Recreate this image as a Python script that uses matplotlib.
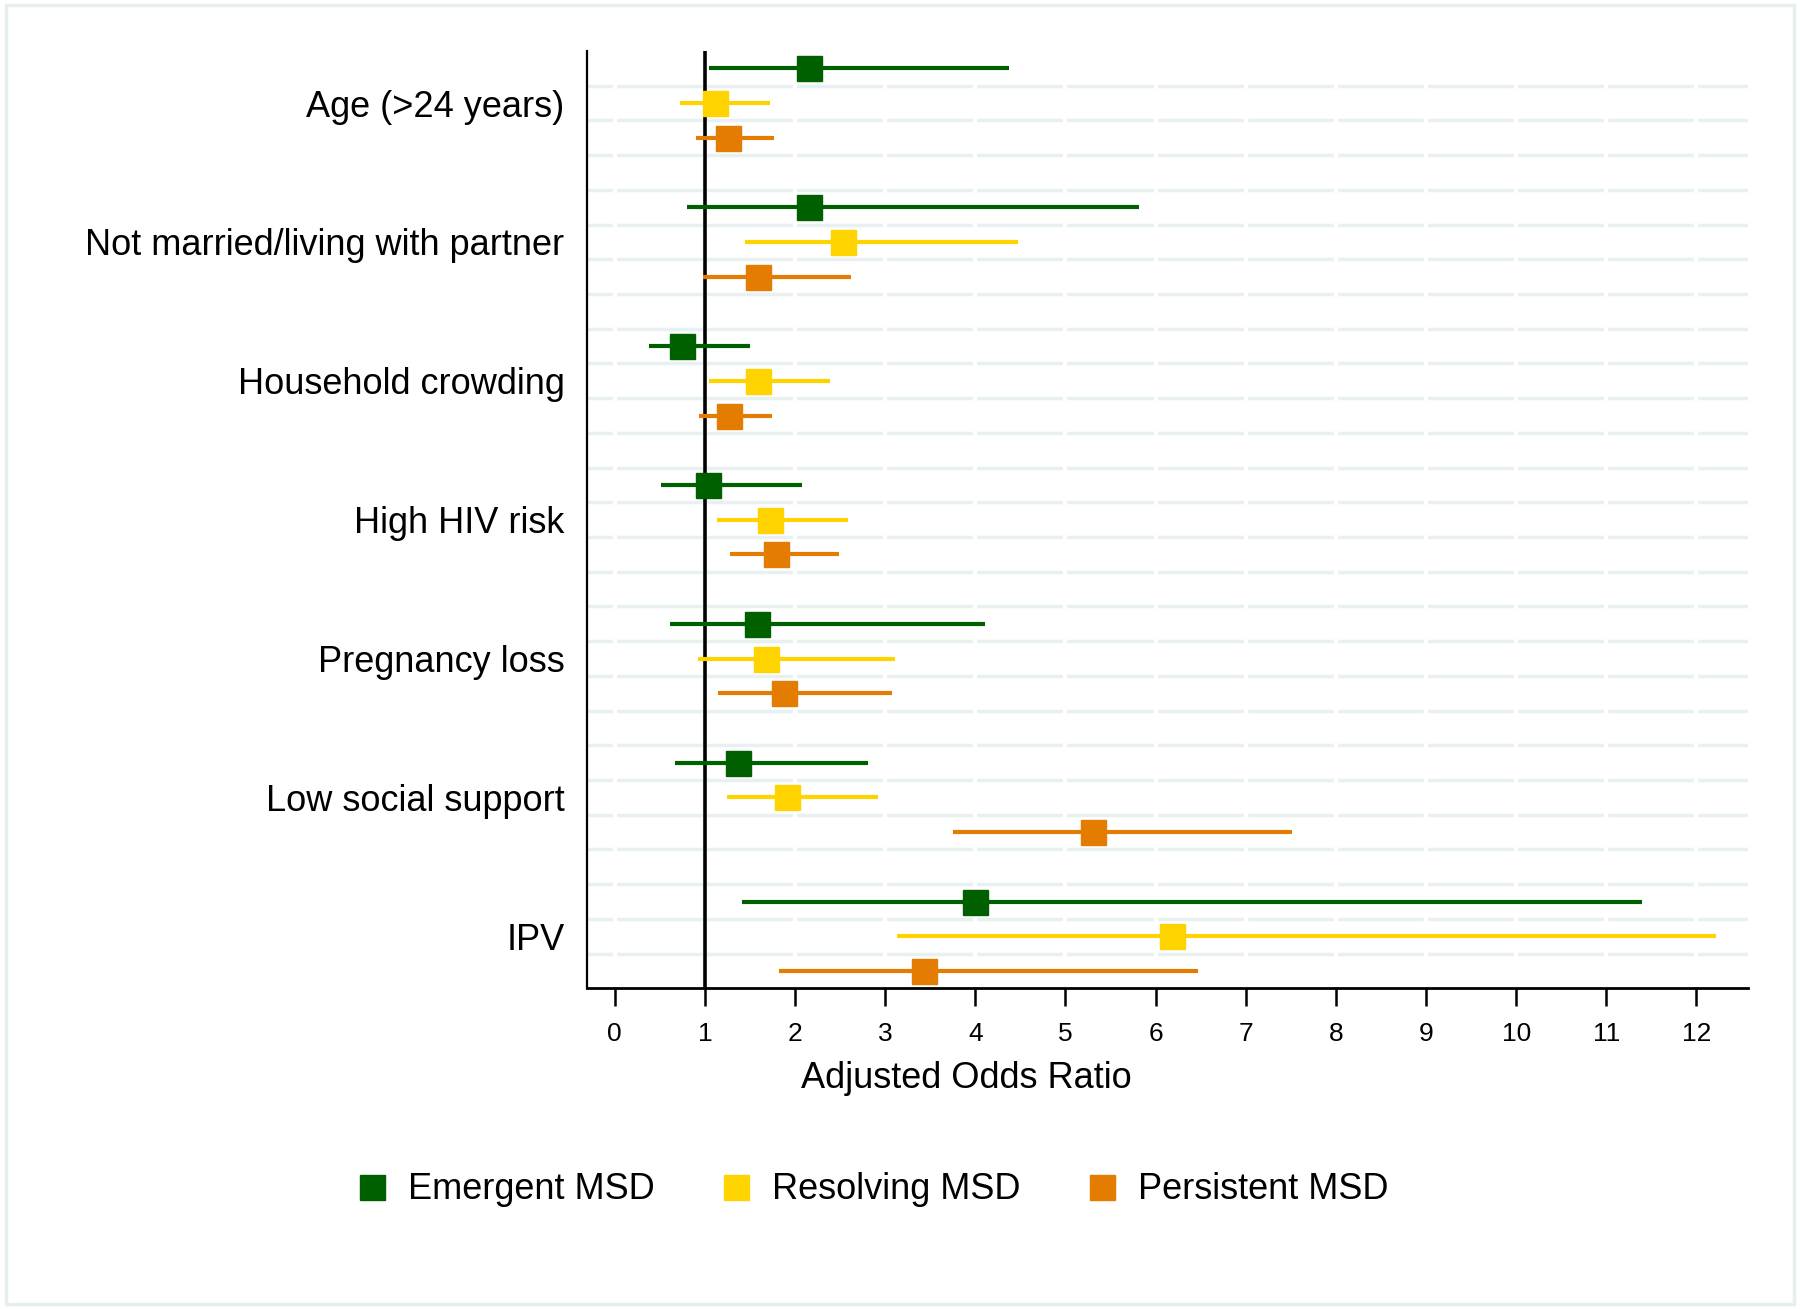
import numpy as np
import matplotlib
matplotlib.use("Agg")
from matplotlib import pyplot as plt
from matplotlib.patches import Rectangle
from matplotlib.lines import Line2D

plt.rcParams['font.family'] = ['Liberation Sans', 'DejaVu Sans']

# data
factors = ["Age (>24 years)", "Not married/living with partner", "Household crowding",
           "High HIV risk", "Pregnancy loss", "Low social support", "IPV"]
series = ["Emergent MSD", "Resolving MSD", "Persistent MSD"]
colors = ["#006000", "#FFD300", "#E37C00"]

emergent_or = [2.15, 2.16, 0.75, 1.03, 1.58, 1.37, 4.00]
emergent_lo = [1.05, 0.80, 0.38, 0.51, 0.61, 0.67, 1.41]
emergent_hi = [4.37, 5.82, 1.50, 2.08, 4.11, 2.81, 11.40]

resolving_or = [1.11, 2.53, 1.59, 1.72, 1.68, 1.91, 6.18]
resolving_lo = [0.72, 1.44, 1.05, 1.13, 0.92, 1.25, 3.13]
resolving_hi = [1.72, 4.47, 2.39, 2.59, 3.11, 2.92, 12.22]

persistent_or = [1.26, 1.59, 1.27, 1.79, 1.88, 5.31, 3.43]
persistent_lo = [0.90, 0.98, 0.93, 1.28, 1.14, 3.75, 1.82]
persistent_hi = [1.77, 2.62, 1.75, 2.49, 3.08, 7.51, 6.47]

est = [emergent_or, resolving_or, persistent_or]
lo = [emergent_lo, resolving_lo, persistent_lo]
hi = [emergent_hi, resolving_hi, persistent_hi]

fig = plt.figure(figsize=(18, 13.09), dpi=100)
ax = fig.add_axes([0.326, 0.245, 0.645, 0.716])

n_slots = len(factors) * 4 - 1

# light horizontal grid, broken at each integer x
for g in np.arange(0.5, n_slots - 1, 1.0):
    ax.axhline(g, color="#E9F0F2", lw=2.5, zorder=0)
for xv in range(0, 13):
    ax.axvline(xv, color="white", lw=3, zorder=0.5)

# reference line at OR = 1
ax.axvline(1, color="black", lw=2.6, zorder=1)

for k in range(3):
    for i in range(len(factors)):
        y = i * 4 + k
        ax.plot([lo[k][i], hi[k][i]], [y, y], color=colors[k], lw=3.0, zorder=2,
                solid_capstyle="butt")
        ax.plot(est[k][i], y, marker="s", markersize=18, color=colors[k], zorder=3)

ax.set_ylim(n_slots - 0.5, -0.5)
ax.set_xlim(-0.31, 12.57)

ax.set_yticks([i * 4 + 1 for i in range(len(factors))])
ax.set_yticklabels(factors, fontsize=26)
ax.tick_params(axis="y", length=0, pad=16)

ax.set_xticks(range(0, 13))
ax.tick_params(axis="x", length=13, width=1.8, labelsize=19, pad=11, direction="out")
ax.set_xlabel("Adjusted Odds Ratio", fontsize=26)
ax.xaxis.set_label_coords(0.327, -0.078)

for s in ["top", "right"]:
    ax.spines[s].set_visible(False)
ax.spines["left"].set_linewidth(1.6)
ax.spines["bottom"].set_linewidth(2.0)

handles = [Line2D([], [], ls="none", marker="s", markersize=18, color=c) for c in colors]
fig.legend(handles, series, loc="center", bbox_to_anchor=(0.484, 0.091), ncol=3,
           frameon=False, fontsize=26, handletextpad=0.5, columnspacing=1.75,
           handlelength=1.0)

# outer frame
fig.patches.append(Rectangle((0.0035, 0.004), 0.993, 0.992, transform=fig.transFigure,
                             fill=False, edgecolor="#E6EEF0", lw=2.5))

fig.savefig("out.png", dpi=100)
